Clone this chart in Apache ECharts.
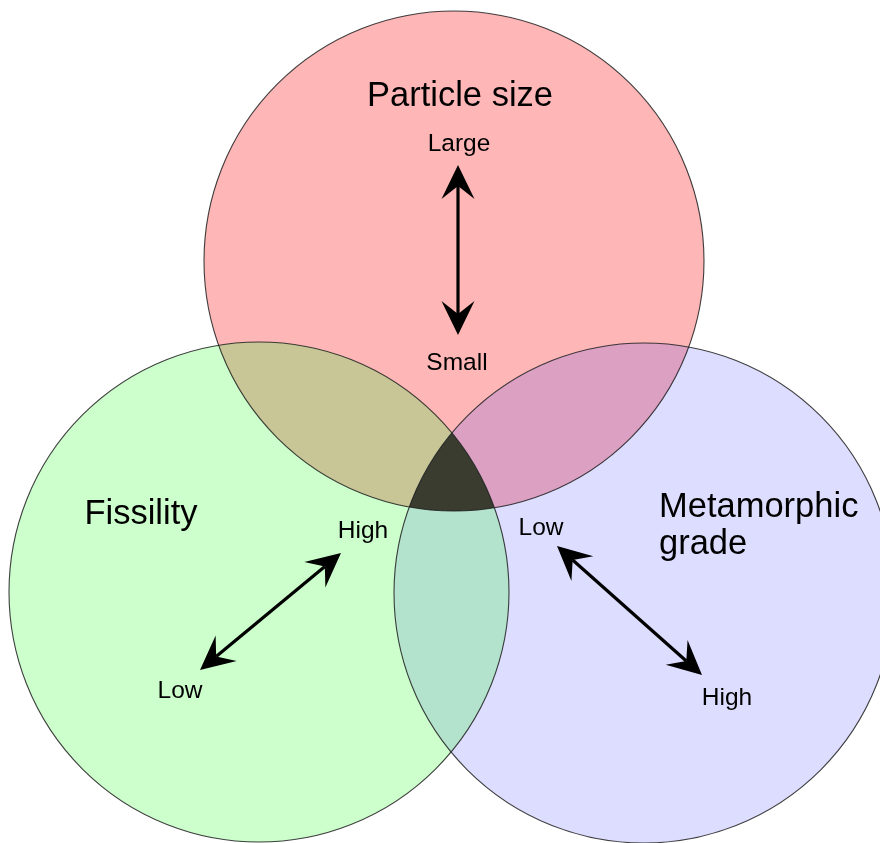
<!DOCTYPE html>
<html>
<head>
<meta charset="utf-8">
<script src="https://cdn.jsdelivr.net/npm/echarts@6/dist/echarts.min.js"></script>
<style>html,body{margin:0;padding:0;background:#fff}#chart{width:880px;height:843px}</style>
</head>
<body>
<div id="chart"></div>
<script>
// ---- data (chart coordinates: x right, y down) ----
const setNames = ['Particle size', 'Fissility', 'Metamorphic grade'];
const centerX = [454, 259, 644];
const centerY = [261, 592, 593];
const radius = [250, 250, 250];

const overlapPairs = [[0, 1], [0, 2], [1, 2]];

const arrowFromX = [458, 200, 557];
const arrowFromY = [335, 670, 546];
const arrowToX = [458, 341, 702];
const arrowToY = [165, 553, 675];

const labelText = ['Particle size', 'Large', 'Small', 'Fissility', 'High', 'Low', 'Metamorphic', 'grade', 'Low', 'High'];
const labelX = [460, 459, 457, 141, 363, 180, 659, 659, 541, 727];
const labelY = [105, 151, 370, 523, 538, 698, 516, 553, 535, 705];
const labelBig = [1, 0, 0, 1, 0, 0, 1, 1, 0, 0];
const labelAlign = ['center', 'center', 'center', 'center', 'center', 'center', 'left', 'left', 'center', 'center'];

// ---- styles ----
const circleFill = ['#ffb6b6', '#ccffcc', '#ddddff'];
const pairFill = ['#c8c696', '#dca0c2', '#b3e3cc'];
const tripleFill = '#3b3c30';
const outlineColor = 'rgba(30,30,30,0.85)';
const FONT = '"Liberation Sans", Arial, sans-serif';

function circPx(api, i) {
  const c = api.coord([centerX[i], centerY[i]]);
  const r = api.size([radius[i], 0])[0];
  return { c: c, r: r };
}
function intersect(A, B) {
  const dx = B.c[0] - A.c[0], dy = B.c[1] - A.c[1];
  const d = Math.sqrt(dx * dx + dy * dy);
  const a = (A.r * A.r - B.r * B.r + d * d) / (2 * d);
  const h = Math.sqrt(Math.max(0, A.r * A.r - a * a));
  const px = A.c[0] + a * dx / d, py = A.c[1] + a * dy / d;
  return [[px - h * dy / d, py + h * dx / d], [px + h * dy / d, py - h * dx / d]];
}
function arcPts(C, p, q, n) {
  const a0 = Math.atan2(p[1] - C.c[1], p[0] - C.c[0]);
  const a1 = Math.atan2(q[1] - C.c[1], q[0] - C.c[0]);
  let da = a1 - a0;
  while (da > Math.PI) da -= 2 * Math.PI;
  while (da < -Math.PI) da += 2 * Math.PI;
  const pts = [];
  for (let k = 0; k <= n; k++) {
    const a = a0 + da * k / n;
    pts.push([C.c[0] + C.r * Math.cos(a), C.c[1] + C.r * Math.sin(a)]);
  }
  return pts;
}
function dist(p, q) { return Math.hypot(p[0] - q[0], p[1] - q[1]); }

const chart = echarts.init(document.getElementById('chart'));
const option = {
  backgroundColor: '#ffffff',
  animation: false,
  grid: { left: 0, right: 0, top: 0, bottom: 0 },
  xAxis: { type: 'value', min: 0, max: 880, show: false },
  yAxis: { type: 'value', min: 0, max: 843, inverse: true, show: false },
  series: [
    {
      type: 'custom', z: 1, silent: true,
      data: setNames.map((n, i) => [centerX[i], centerY[i], i]),
      renderItem: function (params, api) {
        const i = api.value(2);
        const C = circPx(api, i);
        return { type: 'circle', shape: { cx: C.c[0], cy: C.c[1], r: C.r }, style: { fill: circleFill[i], stroke: 'none' } };
      }
    },
    {
      type: 'custom', z: 2, silent: true,
      data: overlapPairs.map(p => [p[0], p[1]]),
      renderItem: function (params, api) {
        const i = api.value(0), j = api.value(1);
        const A = circPx(api, i), B = circPx(api, j);
        const P = intersect(A, B);
        const pts = arcPts(A, P[0], P[1], 80).concat(arcPts(B, P[1], P[0], 80));
        return { type: 'polygon', shape: { points: pts }, style: { fill: pairFill[params.dataIndex], stroke: 'none' } };
      }
    },
    {
      type: 'custom', z: 3, silent: true,
      data: [[0, 1, 2]],
      renderItem: function (params, api) {
        const C = [0, 1, 2].map(i => circPx(api, i));
        function inner(i, j, k) {
          const P = intersect(C[i], C[j]);
          return dist(P[0], C[k].c) < dist(P[1], C[k].c) ? P[0] : P[1];
        }
        const v01 = inner(0, 1, 2), v02 = inner(0, 2, 1), v12 = inner(1, 2, 0);
        const pts = arcPts(C[0], v01, v02, 40).concat(arcPts(C[2], v02, v12, 40), arcPts(C[1], v12, v01, 40));
        return { type: 'polygon', shape: { points: pts }, style: { fill: tripleFill, stroke: 'none' } };
      }
    },
    {
      type: 'custom', z: 4, silent: true,
      data: setNames.map((n, i) => [centerX[i], centerY[i], i]),
      renderItem: function (params, api) {
        const C = circPx(api, api.value(2));
        return { type: 'circle', shape: { cx: C.c[0], cy: C.c[1], r: C.r }, style: { fill: 'none', stroke: outlineColor, lineWidth: 1.1 } };
      }
    },
    {
      type: 'custom', z: 5, silent: true,
      data: arrowFromX.map((x, i) => [arrowFromX[i], arrowFromY[i], arrowToX[i], arrowToY[i]]),
      renderItem: function (params, api) {
        const p = api.coord([api.value(0), api.value(1)]);
        const q = api.coord([api.value(2), api.value(3)]);
        const d = dist(p, q);
        const ux = (q[0] - p[0]) / d, uy = (q[1] - p[1]) / d;
        const nx = -uy, ny = ux;
        const L = 34, W = 16.5, N = 21;
        function head(t, sx, sy) {
          return [t,
            [t[0] - sx * L + nx * W, t[1] - sy * L + ny * W],
            [t[0] - sx * N, t[1] - sy * N],
            [t[0] - sx * L - nx * W, t[1] - sy * L - ny * W]];
        }
        return {
          type: 'group', children: [
            { type: 'line', shape: { x1: p[0] + ux * N, y1: p[1] + uy * N, x2: q[0] - ux * N, y2: q[1] - uy * N }, style: { stroke: '#000', lineWidth: 3.2 } },
            { type: 'polygon', shape: { points: head(q, ux, uy) }, style: { fill: '#000' } },
            { type: 'polygon', shape: { points: head(p, -ux, -uy) }, style: { fill: '#000' } }
          ]
        };
      }
    },
    {
      type: 'custom', z: 6, silent: true,
      data: labelText.map((t, i) => [labelX[i], labelY[i], i]),
      renderItem: function (params, api) {
        const i = api.value(2);
        const p = api.coord([api.value(0), api.value(1)]);
        const fs = labelBig[i] ? 34.5 : 24.5;
        return {
          type: 'text',
          style: {
            text: labelText[i], x: p[0], y: p[1] - fs * 0.26,
            align: labelAlign[i], verticalAlign: 'middle',
            fill: '#000', font: 'normal ' + fs + 'px ' + FONT
          }
        };
      }
    }
  ]
};
chart.setOption(option);
</script>
</body>
</html>
